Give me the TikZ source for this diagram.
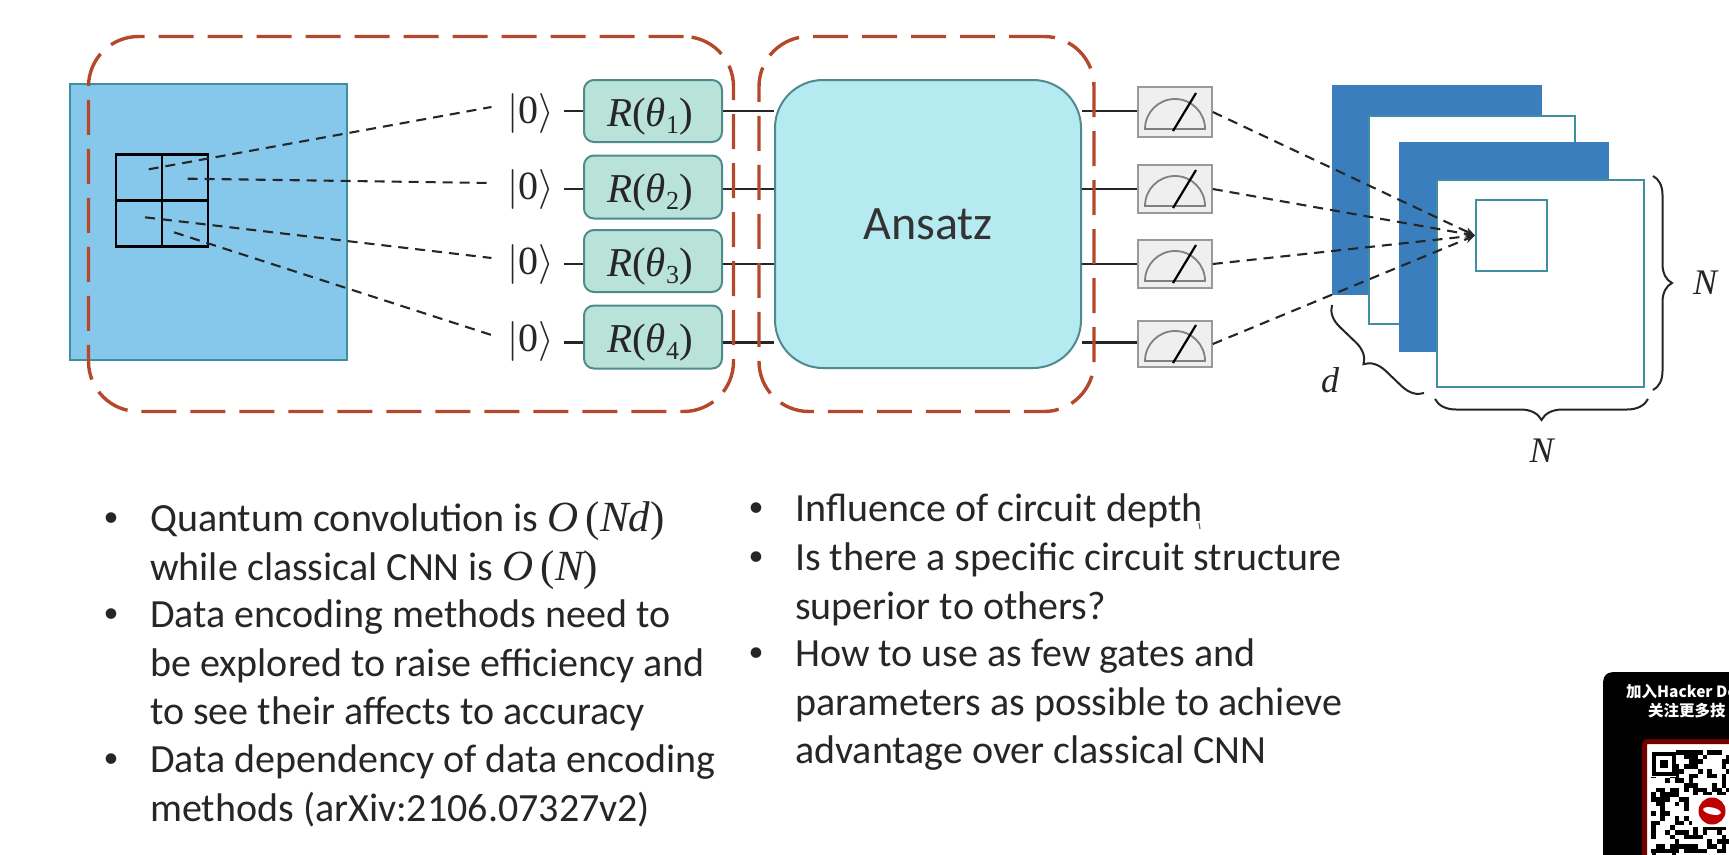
\documentclass[tikz,border=0pt]{standalone}
\usepackage{fix-cm}
\usepackage{fontspec}
\setmainfont{Carlito}
\newfontfamily\cjk{Noto Sans CJK SC}
\newfontfamily\formula{Liberation Serif}
\newcommand{\mi}[1]{{\formula\itshape #1}}
\newcommand{\mr}[1]{{\formula #1}}
\newcommand{\bigO}[1]{\smash{\fontsize{43}{48.3}\selectfont\mi{O}\,\mr{(}\mi{#1}\mr{)}}}
\usepackage{tikz}
\usetikzlibrary{calc,arrows.meta,decorations.pathreplacing,shapes.geometric}

\definecolor{dashred}{HTML}{B5482A}
\definecolor{imgblue}{HTML}{85C8EC}
\definecolor{imgedge}{HTML}{3F8FA0}
\definecolor{gatefill}{HTML}{B9E3D9}
\definecolor{gateedge}{HTML}{4F8A8C}
\definecolor{ansatzfill}{HTML}{B5EAF0}
\definecolor{planeblue}{HTML}{3B7EBD}
\definecolor{meterfill}{HTML}{EFEFEF}

\tikzset{
  dashbox/.style={draw=dashred,line width=3.4pt,dash pattern=on 35pt off 14pt,rounded corners=50pt},
  gatebox/.style={draw=gateedge,line width=2pt,fill=gatefill,rounded corners=10pt,minimum width=138pt,inner sep=0pt,font=\fontsize{41}{44}\selectfont,text=black!85},
  wire/.style={line width=2.2pt,black!85},
  feed/.style={line width=2.1pt,dash pattern=on 10pt off 7pt,black!85},
  meterbox/.style={draw=black!40,line width=1.6pt,fill=meterfill,minimum width=74pt,inner sep=0pt},
  plane/.style={draw=imgedge,line width=2pt,fill=white,anchor=north west,inner sep=0pt},
  fullplane/.style={fill=planeblue,anchor=north west,inner sep=0pt},
  bullet/.style={anchor=north west,align=left,inner sep=0pt,text=black!85,font=\fontsize{40}{48.3}\selectfont},
  dot/.style={anchor=center,inner sep=0pt,text=black!85,font=\fontsize{30}{30}\selectfont},
  brc/.style={decorate,line width=2pt,black!85},
  mathlabel/.style={inner sep=0pt,text=black!85,font=\fontsize{36}{40}\selectfont}
}

\begin{document}
\begin{tikzpicture}[x=1pt,y=-1pt]
\useasboundingbox (0,0) rectangle (1729,854);
\clip (0,0) rectangle (1729,854);

% input image
\node[draw=imgedge,line width=2pt,fill=imgblue,minimum width=277pt,minimum height=276pt,inner sep=0pt] (image) at (208,222) {};
\node[draw=black,line width=2.4pt,minimum width=92pt,minimum height=92pt,inner sep=0pt] (patch) at (162,200.5) {};
\draw[black,line width=2.4pt] (patch.north) -- (patch.south);
\draw[black,line width=2.4pt] (patch.west) -- (patch.east);

% encoding and circuit
\node[draw=gateedge,line width=2pt,fill=ansatzfill,rounded corners=48pt,minimum width=306pt,minimum height=288pt,inner sep=0pt,text=black!80,font=\fontsize{48}{52}\selectfont] (ansatz) at (928,224) {Ansatz};

\foreach \i/\y/\g/\h/\k/\sx/\sy/\my/\mh in {1/110.7/111/62/113/148.7/169.3/112/50,2/189/187/63/189/187.7/178.7/189/48,3/264.3/261/62/264/145/217.3/264/48,4/342.5/337/63/341/174/232.3/344/46} {
  \node[gatebox,minimum height=\h pt] (gate\i) at (653,\g) {\hspace*{-6pt}\raisebox{0pt}[31pt][0pt]{\mi{R}\mr{(}\mi{θ}\raisebox{-7pt}{\mr{\fontsize{26}{26}\selectfont\i}}\mr{)}}};
  \node[inner sep=0pt,text=black!85,font=\fontsize{40}{44}\selectfont] (ket\i) at (531,\k) {$|$\mr{0}$\rangle$};
  \node[meterbox,minimum height=\mh pt] (meter\i) at (1175,\my) {};
  \coordinate (wire\i) at (564,\y);
  \coordinate (patch\i) at (\sx,\sy);
  \coordinate (feedin\i) at ($(ket\i.west)+(-16,-6)$);
  \draw[wire] (wire\i) -- (wire\i -| gate\i.west);
  \draw[wire] (wire\i -| gate\i.east) -- (wire\i -| ansatz.west);
  \draw[wire] (wire\i -| ansatz.east) -- (wire\i -| meter\i.west);
  \draw[feed] (patch\i) -- (feedin\i);
  % dial
  \draw[black!50,line width=1.8pt] ($(meter\i.center)+(-30,17)$) arc[start angle=180,end angle=0,radius=30pt] -- cycle;
  \draw[black,line width=2.2pt] ($(meter\i.center)+(-2,19)$) -- ($(meter\i.center)+(21,-19)$);
}

\node[dashbox,minimum width=645pt,minimum height=375pt,inner sep=0pt] (encbox) at (411,224) {};
\node[dashbox,minimum width=335pt,minimum height=375pt,inner sep=0pt] (ansbox) at (926.5,224) {};

% feature maps
\node[fullplane,minimum width=210pt,minimum height=210pt] (plane1) at (1332,85) {};
\node[plane,minimum width=206pt,minimum height=208pt] (plane2) at (1368,115) {};
\node[fullplane,minimum width=210pt,minimum height=210pt] (plane3) at (1399,142) {};
\node[plane,minimum width=207pt,minimum height=207pt] (plane4) at (1436,179) {};
\node[plane,minimum width=71pt,minimum height=71pt] (filter) at (1475,199) {};

\foreach \i in {1,...,4} {
  \draw[feed,-{Stealth[length=10pt,width=8pt]}] (meter\i.east) -- (filter.west);
}

\draw[brc,decoration={brace,amplitude=19pt}] (1653,176) -- (1653,390) node[mathlabel,midway,xshift=52pt] (nright) {\mi{N}};
\draw[brc,decoration={brace,amplitude=21pt}] (1648,399) -- (1435,399) node[mathlabel,midway,yshift=-52pt] (nbottom) {\mi{N}};
\draw[brc,decoration={brace,amplitude=21pt}] (1424,393) -- (1332,305);
\node[mathlabel] (dlabel) at (1330,380) {\mi{d}};

% bullets
\foreach \bx/\by/\bname/\btxt in {
  111/520/a/{Quantum convolution is \bigO{Nd}\\while classical CNN is \bigO{N}},
  111/616/b/{Data encoding methods need to\\be explored to raise efficiency and\\to see their affects to accuracy},
  111/761/c/{Data dependency of data encoding\\methods (arXiv:2106.07327v2)},
  756/510/d/{Influence of circuit depth},
  756/559/e/{Is there a specific circuit structure\\superior to others?},
  756/655/f/{How to use as few gates and\\parameters as possible to achieve\\advantage over classical CNN}} {
  \node[dot] (dot\bname) at (\bx,\by) {•};
  \node[bullet] (text\bname) at ($(\bx,\by)+(39,-16)$) {\btxt};
}
\draw[black!60,line width=1.2pt] (1199,523) -- (1200,529);

% corner panel
\node[fill=black,rounded corners=9pt,anchor=north west,minimum width=180pt,minimum height=220pt,inner sep=0pt] (panel) at (1603,672) {};
\node[anchor=west,inner sep=0pt,text=white,font=\cjk\bfseries\fontsize{15.5}{18}\selectfont] (paneltop) at (1626,692) {加入Hacker Do};
\node[anchor=west,inner sep=0pt,text=white,font=\cjk\bfseries\fontsize{15.5}{18}\selectfont] (panelsub) at (1648,711) {关注更多技};
\node[draw=red!45!black,line width=5pt,fill=white,rounded corners=3pt,anchor=north west,minimum width=120pt,minimum height=140pt,inner sep=0pt] (qr) at (1642,739) {};
\pgfmathsetseed{11}
\foreach \qx in {0,...,16} {
  \foreach \qy in {0,...,21} {
    \pgfmathtruncatemacro{\qon}{rnd>0.5 ? 1 : 0}
    \ifnum\qon=1 \fill[black] (1651+4.7*\qx,750+4.7*\qy) rectangle +(4.7,4.7); \fi
  }
}
\fill[white] (1649,748) rectangle (1676,777);
\fill[white] (1692,795) rectangle (1729,827);
\foreach \qy in {752,849} {
  \node[draw=black,line width=4pt,fill=white,anchor=north west,minimum size=20pt,inner sep=0pt] (finder\qy) at (1652,\qy) {};
  \node[fill=black,minimum size=8pt,inner sep=0pt] (core\qy) at (finder\qy.center) {};
}
\node[circle,fill=red!75!black,minimum size=27pt,inner sep=0pt] (logo) at (1712,811) {};
\node[ellipse,fill=white,minimum width=18pt,minimum height=7pt,inner sep=0pt,rotate=-12] (logoface) at (logo.center) {};
\end{tikzpicture}
\end{document}
